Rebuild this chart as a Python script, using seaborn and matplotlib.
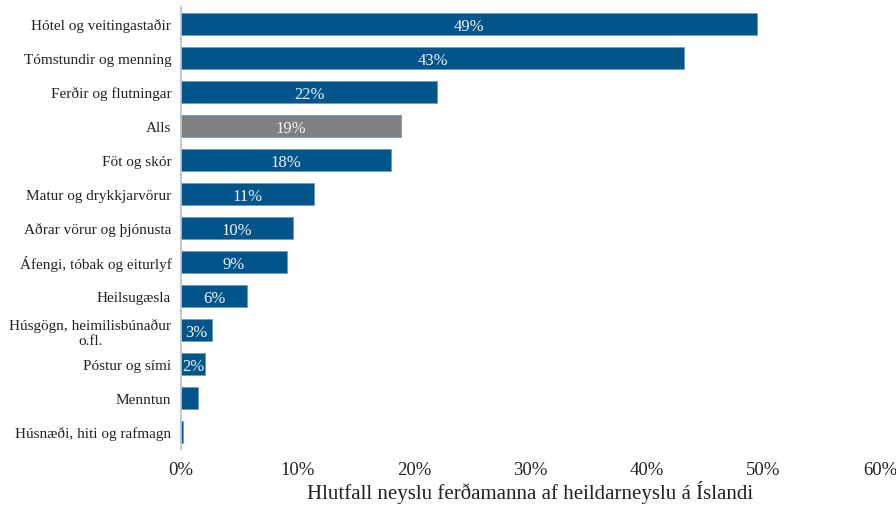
import matplotlib
matplotlib.use("Agg")
import matplotlib.pyplot as plt
import seaborn as sns
import pandas as pd

categories = [
    "Hótel og veitingastaðir",
    "Tómstundir og menning",
    "Ferðir og flutningar",
    "Alls",
    "Föt og skór",
    "Matur og drykkjarvörur",
    "Aðrar vörur og þjónusta",
    "Áfengi, tóbak og eiturlyf",
    "Heilsugæsla",
    "Húsgögn, heimilisbúnaður\no.fl.",
    "Póstur og sími",
    "Menntun",
    "Húsnæði, hiti og rafmagn",
]
shares = [49.4, 43.2, 22.0, 18.9, 18.0, 11.4, 9.6, 9.1, 5.7, 2.7, 2.1, 1.5, 0.2]
x_ticks = [0, 10, 20, 30, 40, 50, 60]

BLUE = "#02558b"
GRAY = "#808080"
colors = [GRAY if c == "Alls" else BLUE for c in categories]

df = pd.DataFrame({"category": categories, "share": shares})

sns.set_theme(style="white")
plt.rcParams["font.family"] = ["Liberation Serif", "DejaVu Serif"]

fig = plt.figure(figsize=(8.96, 5.06), dpi=100)
ax = fig.add_axes([181 / 896, 1 - 450 / 506, (880 - 181) / 896, (450 - 8) / 506])

sns.barplot(data=df, x="share", y="category", hue="category", palette=colors,
            orient="h", width=0.62, legend=False, ax=ax, saturation=1,
            edgecolor="#6f9cc0", linewidth=0.6)

ax.set_xlim(0, 60)
ax.set_ylim(len(categories) - 0.5, -0.5)
ax.set_xticks(x_ticks)
ax.set_xticklabels([f"{t}%" for t in x_ticks], fontsize=13.5, color="#222222")
ax.tick_params(axis="x", length=0, pad=9)
ax.tick_params(axis="y", length=0, pad=7)
for lbl in ax.get_yticklabels():
    lbl.set_fontsize(11)
    lbl.set_color("#222222")
    lbl.set_multialignment("center")

ax.set_ylabel("")
ax.set_xlabel("Hlutfall neyslu ferðamanna af heildarneyslu á Íslandi",
              fontsize=15, color="#222222", labelpad=1)

for side in ["top", "right", "bottom"]:
    ax.spines[side].set_visible(False)
ax.spines["left"].set_color("#bfbfbf")
ax.spines["left"].set_linewidth(1.2)

for i, v in enumerate(shares):
    if v >= 2:
        ax.text(v / 2, i, f"{round(v)}%", ha="center", va="center_baseline",
                color="#f2f2f2", fontsize=12)

fig.savefig("out.png", dpi=100)
